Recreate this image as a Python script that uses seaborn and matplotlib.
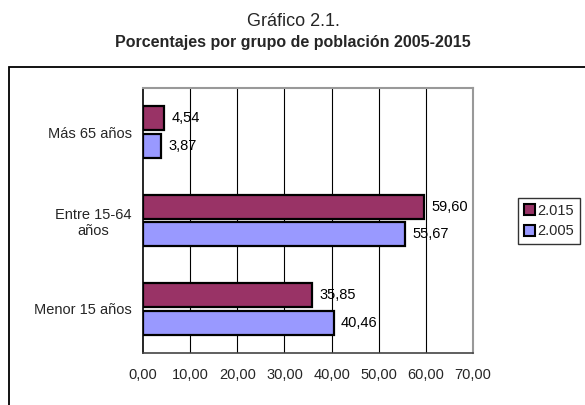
import matplotlib
matplotlib.use("Agg")
import matplotlib.pyplot as plt
from matplotlib.patches import Patch, Rectangle
import numpy as np
import pandas as pd
import seaborn as sns

grupos = ["Más 65 años", "Entre 15-64\naños", "Menor 15 años"]
anios = ["2.015", "2.005"]
valores_2015 = [4.54, 59.60, 35.85]
valores_2005 = [3.87, 55.67, 40.46]
colores = {"2.015": "#993366", "2.005": "#9999FF"}
x_ticks = [0, 10, 20, 30, 40, 50, 60, 70]

df = pd.DataFrame({
    "grupo": grupos * 2,
    "anio": [anios[0]] * 3 + [anios[1]] * 3,
    "valor": valores_2015 + valores_2005,
})

sns.set_style("white")
plt.rcParams["font.family"] = ["Liberation Sans", "DejaVu Sans"]

fig = plt.figure(figsize=(5.85, 4.05), dpi=100)
ax = fig.add_axes([143 / 585, 1 - 353 / 405, 330 / 585, 265 / 405])

sns.barplot(data=df, x="valor", y="grupo", hue="anio", order=grupos,
            hue_order=anios, palette=colores, orient="h", width=0.63,
            gap=0.14, edgecolor="black", linewidth=1.6, saturation=1,
            legend=False, ax=ax, zorder=3)

# etiquetas de valor
for cont in ax.containers:
    for bar in cont:
        w = bar.get_width()
        ax.text(w + 1.5, bar.get_y() + bar.get_height() / 2,
                f"{w:.2f}".replace(".", ","), va="center", ha="left",
                fontsize=10.5, color="black")

ax.set_xlim(0, 70)
ax.set_ylim(2.5, -0.5)
ax.set_xticks(x_ticks)
ax.set_xticklabels([f"{v:.2f}".replace(".", ",") for v in x_ticks], fontsize=10.5)
ax.set_yticks([0, 1, 2])
ax.set_yticklabels(grupos, fontsize=10.5)
ax.set_yticks([-0.5, 0.5, 1.5, 2.5], minor=True)
ax.tick_params(axis="y", which="major", length=0, pad=8)
ax.tick_params(axis="y", which="minor", length=5, width=1, color="black", direction="out")
ax.tick_params(axis="x", length=5, width=1, color="black", direction="out", pad=6)
ax.set_xlabel("")
ax.set_ylabel("")
for t in ax.get_yticklabels():
    t.set_multialignment("center")

for v in x_ticks[1:-1]:
    ax.axvline(v, color="black", linewidth=0.8, zorder=1)

ax.spines["left"].set_color("black")
ax.spines["left"].set_linewidth(1.2)
ax.spines["bottom"].set_color("#444444")
ax.spines["bottom"].set_linewidth(1.2)
ax.spines["top"].set_color("#999999")
ax.spines["top"].set_linewidth(1.5)
ax.spines["right"].set_color("#999999")
ax.spines["right"].set_linewidth(1.5)

# marco exterior
fig.patches.append(Rectangle((9 / 585, -0.1), 1.2, 0.1 + (1 - 67 / 405),
                             transform=fig.transFigure, fill=False,
                             edgecolor="black", linewidth=1.3))

handles = [Patch(facecolor=colores[a], edgecolor="black", linewidth=1.5, label=a)
           for a in anios]
leg = fig.legend(handles=handles, loc="center", bbox_to_anchor=(549 / 585, 1 - 221 / 405),
                 fontsize=10.5, frameon=True, fancybox=False, handlelength=0.75,
                 handleheight=0.75, handletextpad=0.2, borderpad=0.4, labelspacing=0.45,
                 borderaxespad=0)
leg.get_frame().set_edgecolor("black")
leg.get_frame().set_linewidth(1.0)

fig.text(293 / 585, 1 - 21 / 405, "Gráfico 2.1.", ha="center", va="center", fontsize=13)
fig.text(293 / 585, 1 - 42 / 405, "Porcentajes por grupo de población 2005-2015",
         ha="center", va="center", fontsize=11.5, fontweight="bold")

fig.savefig("out.png", dpi=100)
